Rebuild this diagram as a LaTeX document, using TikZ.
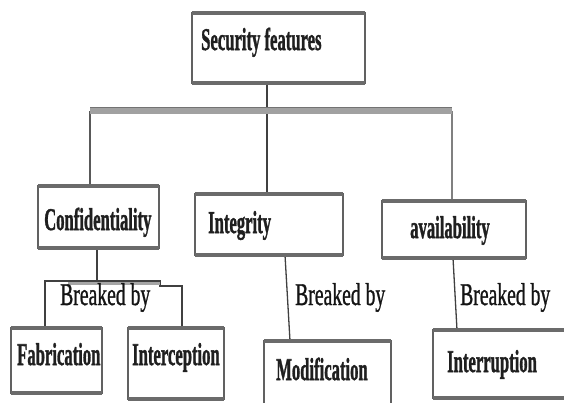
\documentclass[tikz,border=0pt]{standalone}
\usepackage{fontspec}
\setmainfont{Liberation Serif}[BoldFeatures={FakeBold=1.6}]
\newfontfamily\brkfont{Liberation Serif}[FakeBold=1.2]
\usepackage{graphicx}

% narrow lettering used throughout
\newcommand\narrowlbl[1]{\scalebox{0.525}[1]{#1}}
\newcommand\narrowbrk[1]{\scalebox{0.62}[1]{#1}}

\tikzset{
  box/.style={draw=black!62, line width=2.2pt, fill=white, inner sep=0pt},
  boxedge/.style={draw=black!58, line width=4pt},
  lbl/.style={anchor=base west, inner sep=0pt, text=black!88,
              font=\fontsize{31.7}{34}\selectfont\bfseries},
  brk/.style={anchor=base west, inner sep=0pt, text=black!92,
              font=\fontsize{31.7}{34}\brkfont},
  wire/.style={draw=black!75, line width=1.3pt},
}

\begin{document}
\begin{tikzpicture}[x=1pt, y=-1pt]
  \useasboundingbox (0,0) rectangle (564,402);
  \clip (0,0) rectangle (564,402);

  % boxes (placed first to fix their anchors)
  \path
    (278.5,48)  node[box, minimum width=171pt, minimum height=68pt] (sec)   {}
    (98.5,217)  node[box, minimum width=119pt, minimum height=60pt] (conf)  {}
    (269,224.5) node[box, minimum width=146pt, minimum height=59pt] (integ) {}
    (454,229.5) node[box, minimum width=142pt, minimum height=55pt] (avail) {}
    (56.5,360.5) node[box, minimum width=89pt, minimum height=63pt] (fab)   {}
    (176,363.5) node[box, minimum width=94pt, minimum height=69pt] (intc)  {}
    (327.5,376) node[box, minimum width=125pt, minimum height=68pt] (mod)   {}
    (507,364)   node[box, minimum width=146pt, minimum height=66pt] (intr)  {};

  % junction points
  \coordinate (barL) at (90,110.5);
  \coordinate (barR) at (452,110.5);
  \coordinate (hub)  at (267,110.5);
  \coordinate (cdrop) at (97,281);
  \coordinate (fkn) at (45,281);
  \coordinate (step) at (160,281);
  \coordinate (ikn) at (182,286);
  \coordinate (mtop) at (285,0);
  \coordinate (mbot) at (290,0);
  \coordinate (rtop) at (453,0);
  \coordinate (rbot) at (457,0);

  % connectors
  \draw[wire] (hub |- sec.south) -- (hub);
  \draw[line width=2.8pt, draw=black!65] (barL) -- (barL |- conf.north);
  \draw[wire] (hub) -- (hub |- integ.north);
  \draw[line width=2pt, draw=black!50] (barR) -- (barR |- avail.north);
  \draw[line width=6.5pt, draw=black!37] (barL) -- (barR);
  \draw[line width=1.2pt, draw=black!55] ([yshift=3.2pt]barL) -- ([yshift=3.2pt]barR);

  \draw[wire] (cdrop |- conf.south) -- (cdrop);
  \draw[wire] (fkn |- fab.north) -- (fkn) -- (step) -- (step |- ikn) -- (ikn) -- (ikn |- intc.north);
  \draw[line width=3pt, draw=black!35] (68,283.5) -- (step |- 0,283.5);
  \draw[wire] (mtop |- integ.south) -- (mbot |- mod.north);
  \draw[wire] (rtop |- avail.south) -- (rbot |- intr.north);

  % boxes on top of the connector ends
  \foreach \n in {sec,conf,integ,avail,fab,intc,mod,intr}{
    \draw[box, fill=white] (\n.north west) rectangle (\n.south east);
    \draw[boxedge] (\n.north west) -- (\n.north east);
    \draw[boxedge] (\n.south west) -- (\n.south east);
  }

  % labels
  \node[lbl] (tsec)   at (201,50)  {\narrowlbl{Security features}};
  \node[lbl] (tconf)  at (44,230)  {\narrowlbl{Confidentiality}};
  \node[lbl] (tinteg) at (208,233) {\narrowlbl{Integrity}};
  \node[lbl] (tavail) at (410,238) {\narrowlbl{availability}};
  \node[lbl] (tfab)   at (17,365)  {\narrowlbl{Fabrication}};
  \node[lbl] (tintc)  at (132,365) {\narrowlbl{Interception}};
  \node[lbl] (tmod)   at (276,380) {\narrowlbl{Modification}};
  \node[lbl] (tintr)  at (447,372) {\narrowlbl{Interruption}};

  \node[brk] (b1) at (60,305)  {\narrowbrk{Breaked by}};
  \node[brk] (b2) at (295,305) {\narrowbrk{Breaked by}};
  \node[brk] (b3) at (460,305) {\narrowbrk{Breaked by}};
\end{tikzpicture}
\end{document}
